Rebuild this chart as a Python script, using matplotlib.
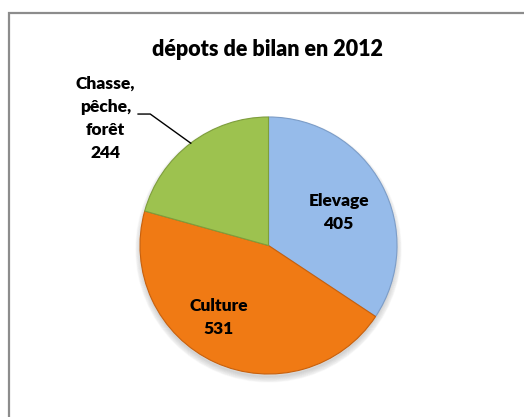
import numpy as np
import matplotlib
matplotlib.use("Agg")
import matplotlib.pyplot as plt
from matplotlib.patches import Rectangle, Circle

# data
categories = ["Elevage", "Culture", "Chasse,\npêche,\nforêt"]
values = [405, 531, 244]
colors = ["#96BBEA", "#F07A14", "#9DC24F"]
edges = ["#7C9DC8", "#C8600C", "#7E9E3C"]
title = "dépots de bilan en 2012"

plt.rcParams['font.family'] = ['Lato', 'DejaVu Sans']

W, H = 524, 417
fig = plt.figure(figsize=(W / 100, H / 100), dpi=100)

# chart frame (cut off at right and bottom like the screenshot)
fig.patches.append(Rectangle((9 / W, -0.2), 1.2, (H - 13) / H + 0.2,
                             transform=fig.transFigure, fill=False,
                             edgecolor="#8C8C8C", linewidth=1.6))

# pie area: center ~ (268.5, 245.5) px, radius ~128.5 px
cx, cy, r = 268.5, 245.5, 128.5
ax = fig.add_axes([(cx - r) / W, (H - cy - r) / H, 2 * r / W, 2 * r / H])

# soft shadow under the pie
for k in range(8):
    ax.add_patch(Circle((0, -0.03), 0.99 + 0.006 * k, color="black",
                        alpha=0.02, zorder=0, clip_on=False))

wedges, _ = ax.pie(values, colors=colors, startangle=90, counterclock=False,
                   radius=1.0, wedgeprops=dict(linewidth=0.8))
for w, ec in zip(wedges, edges):
    w.set_edgecolor(ec)
    w.set_zorder(2)

ax.set_xlim(-1, 1)
ax.set_ylim(-1, 1)
ax.set_aspect("equal")
ax.axis("off")

lbl = dict(ha="center", va="center", fontsize=12.5, fontweight="heavy",
           color="black", linespacing=1.55, zorder=5)

# inside labels
ax.text(0.545, 0.26, f"{categories[0]}\n{values[0]}", **lbl)
ax.text(-0.385, -0.56, f"{categories[1]}\n{values[1]}", **lbl)

# outside label with leader line, ending on the wedge edge at its mid angle
w = wedges[2]
mid = np.deg2rad((w.theta1 + w.theta2) / 2)
ex, ey = np.cos(mid), np.sin(mid)
ax.plot([-1.015, -0.92, ex], [1.023, 1.023, ey], color="black", lw=1.0,
        clip_on=False, zorder=4)
ax.text(-1.27, 0.99, f"{categories[2]}\n{values[2]}", **lbl)

fig.text(268 / W, 1 - 50 / H, title, ha="center", va="center",
         fontsize=15.5, fontweight="heavy")

fig.savefig("out.png", dpi=100)
